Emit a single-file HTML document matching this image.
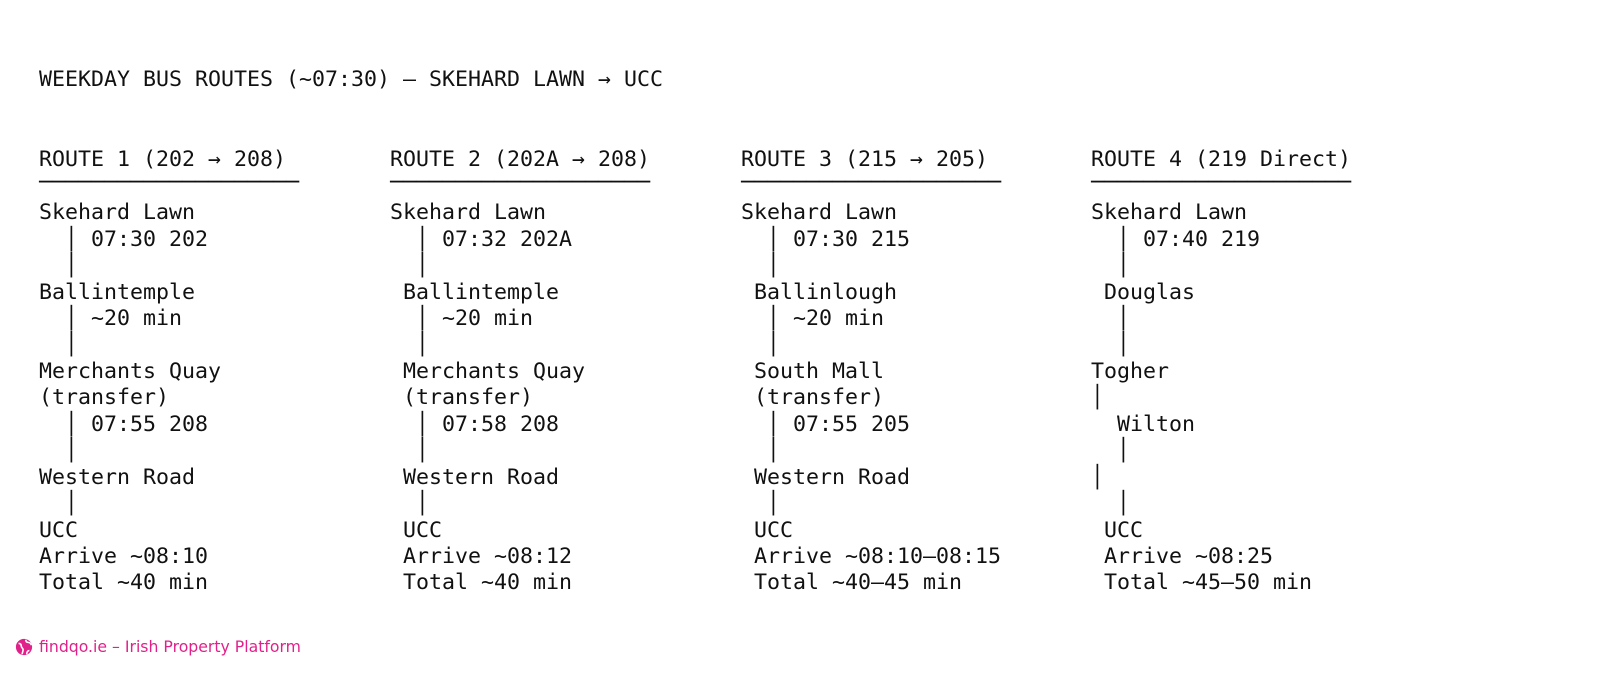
<!DOCTYPE html>
<html><head><meta charset="utf-8"><style>
html,body{margin:0;padding:0;background:#fff;width:1600px;height:700px;overflow:hidden;position:relative}
.c{position:absolute;top:0}
.c div{position:absolute;left:0;white-space:pre;font-family:"DejaVu Sans Mono","Liberation Mono",monospace;font-size:21.6px;line-height:26px;color:#111}
.f{position:absolute;left:15px;top:637px;font-family:"DejaVu Sans","Liberation Sans",sans-serif;font-size:15.7px;color:#e0218a;display:flex;align-items:center;gap:6px}
</style></head><body>
<div class="c" style="left:39px">
<div style="top:66.5px">WEEKDAY BUS ROUTES (~07:30) – SKEHARD LAWN → UCC</div>
<div style="top:147.3px">ROUTE 1 (202 → 208)</div>
<div style="top:169.8px">────────────────────</div>
<div style="top:200.2px">Skehard Lawn</div>
<div style="top:226.6px">  │ 07:30 202</div>
<div style="top:253.1px">  │</div>
<div style="top:279.5px">Ballintemple</div>
<div style="top:306px">  │ ~20 min</div>
<div style="top:332.4px">  │</div>
<div style="top:358.8px">Merchants Quay</div>
<div style="top:385.3px">(transfer)</div>
<div style="top:411.7px">  │ 07:55 208</div>
<div style="top:438.2px">  │</div>
<div style="top:464.6px">Western Road</div>
<div style="top:491px">  │</div>
<div style="top:517.5px">UCC</div>
<div style="top:543.9px">Arrive ~08:10</div>
<div style="top:570.4px">Total ~40 min</div>
</div>
<div class="c" style="left:390px">
<div style="top:147.3px">ROUTE 2 (202A → 208)</div>
<div style="top:169.8px">────────────────────</div>
<div style="top:200.2px">Skehard Lawn</div>
<div style="top:226.6px">  │ 07:32 202A</div>
<div style="top:253.1px">  │</div>
<div style="top:279.5px"> Ballintemple</div>
<div style="top:306px">  │ ~20 min</div>
<div style="top:332.4px">  │</div>
<div style="top:358.8px"> Merchants Quay</div>
<div style="top:385.3px"> (transfer)</div>
<div style="top:411.7px">  │ 07:58 208</div>
<div style="top:438.2px">  │</div>
<div style="top:464.6px"> Western Road</div>
<div style="top:491px">  │</div>
<div style="top:517.5px"> UCC</div>
<div style="top:543.9px"> Arrive ~08:12</div>
<div style="top:570.4px"> Total ~40 min</div>
</div>
<div class="c" style="left:741px">
<div style="top:147.3px">ROUTE 3 (215 → 205)</div>
<div style="top:169.8px">────────────────────</div>
<div style="top:200.2px">Skehard Lawn</div>
<div style="top:226.6px">  │ 07:30 215</div>
<div style="top:253.1px">  │</div>
<div style="top:279.5px"> Ballinlough</div>
<div style="top:306px">  │ ~20 min</div>
<div style="top:332.4px">  │</div>
<div style="top:358.8px"> South Mall</div>
<div style="top:385.3px"> (transfer)</div>
<div style="top:411.7px">  │ 07:55 205</div>
<div style="top:438.2px">  │</div>
<div style="top:464.6px"> Western Road</div>
<div style="top:491px">  │</div>
<div style="top:517.5px"> UCC</div>
<div style="top:543.9px"> Arrive ~08:10–08:15</div>
<div style="top:570.4px"> Total ~40–45 min</div>
</div>
<div class="c" style="left:1091px">
<div style="top:147.3px">ROUTE 4 (219 Direct)</div>
<div style="top:169.8px">────────────────────</div>
<div style="top:200.2px">Skehard Lawn</div>
<div style="top:226.6px">  │ 07:40 219</div>
<div style="top:253.1px">  │</div>
<div style="top:279.5px"> Douglas</div>
<div style="top:306px">  │</div>
<div style="top:332.4px">  │</div>
<div style="top:358.8px">Togher</div>
<div style="top:385.3px">│</div>
<div style="top:411.7px">  Wilton</div>
<div style="top:438.2px">  │</div>
<div style="top:464.6px">│</div>
<div style="top:491px">  │</div>
<div style="top:517.5px"> UCC</div>
<div style="top:543.9px"> Arrive ~08:25</div>
<div style="top:570.4px"> Total ~45–50 min</div>
</div>
<div class="f"><svg width="18" height="18" viewBox="0 0 20 20"><circle cx="10" cy="10" r="9" fill="#e0218a"/><path d="M4 6c2 0 3 1 3 3s2 2 2 4-1 3-1 5M12 2c0 2 1 3 3 3s3 2 3 3M13 18c0-2 1-4 3-4" stroke="#fff" stroke-width="1.8" fill="none"/></svg><span>findqo.ie – Irish Property Platform</span></div>
</body></html>
